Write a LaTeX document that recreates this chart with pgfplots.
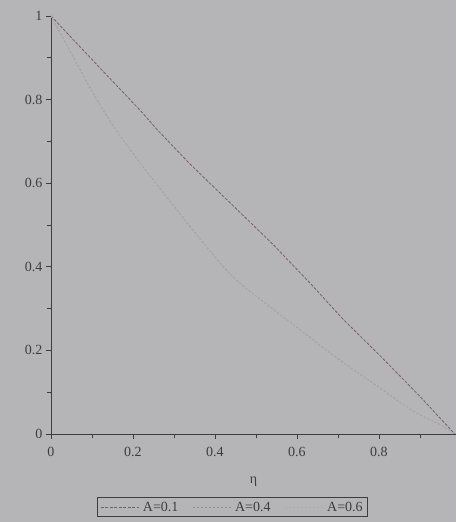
\documentclass[border=0pt]{standalone}
\usepackage{fontspec}
\setmainfont{Liberation Serif}
\usepackage{pgfplots}
\pgfplotsset{compat=1.18}

\definecolor{paper}{RGB}{181,181,183}
\definecolor{ink}{RGB}{62,60,62}
\definecolor{curveA}{RGB}{118,96,102}
\definecolor{curveB}{RGB}{148,143,148}
\definecolor{curveC}{RGB}{172,170,172}

\begin{document}
\begin{tikzpicture}
% sheet behind the plot
\fill[paper] (-51pt,-88pt) rectangle (405pt,434pt);
\begin{axis}[
  scale only axis, width=405pt, height=418pt,
  xmin=0, xmax=0.988, ymin=0, ymax=1,
  axis lines=left,
  axis line style={ink, line width=0.9pt, -},
  xtick={0,0.2,0.4,0.6,0.8},
  ytick={0,0.2,0.4,0.6,0.8,1},
  minor xtick={0.1,0.3,0.5,0.7,0.9},
  minor ytick={0.1,0.3,0.5,0.7,0.9},
  tick align=outside,
  major tick length=5pt, minor tick length=4pt,
  tick style={ink, line width=0.8pt},
  /pgf/number format/assume math mode=true,
  xticklabel style={font=\fontsize{14}{16}\selectfont, text=ink, yshift=-5pt},
  yticklabel style={font=\fontsize{14}{16}\selectfont, text=ink},
  xlabel={η},
  xlabel style={font=\fontsize{14}{16}\selectfont, text=ink, at={(axis description cs:0.5,0)}, anchor=center, yshift=-48pt},
  legend style={at={(0.448,-0.175)}, anchor=center, legend columns=3,
    draw=ink, line width=0.8pt, fill=paper, text=ink,
    font=\fontsize{14}{16}\selectfont, inner ysep=2pt,
    /tikz/every odd column/.append style={column sep=2pt},
    /tikz/every even column/.append style={column sep=12pt}},
  legend image code/.code={\draw[#1] (0pt,0pt) -- (38pt,0pt);},
  clip=true,
]
\addplot[curveA, line width=0.8pt, dash pattern=on 3pt off 1.5pt] coordinates {
  (0,1) (0.12,0.875) (0.217,0.775) (0.259,0.728) (0.34,0.645) (0.437,0.553)
  (0.54,0.455) (0.632,0.361) (0.712,0.275) (0.80,0.19) (0.90,0.09) (0.985,0)
};
\addlegendentry{A=0.1}
\addplot[curveB, line width=0.7pt, dash pattern=on 2pt off 2pt, smooth, tension=0.5] coordinates {
  (0,1) (0.05,0.91) (0.10,0.82) (0.15,0.74) (0.22,0.645)
  (0.30,0.545) (0.39,0.435) (0.45,0.37) (0.52,0.315) (0.60,0.255)
  (0.70,0.18) (0.80,0.112) (0.88,0.057) (0.95,0.022) (0.985,0)
};
\addlegendentry{A=0.4}
\addplot[curveC, line width=0.6pt, dash pattern=on 2pt off 2pt, smooth, tension=0.5] coordinates {
  (0,1) (0.05,0.91) (0.10,0.82) (0.15,0.74) (0.22,0.645)
  (0.30,0.545) (0.39,0.435) (0.45,0.37) (0.52,0.315) (0.60,0.255)
  (0.70,0.18) (0.80,0.112) (0.88,0.057) (0.95,0.022) (0.985,0)
};
\addlegendentry{A=0.6}
\end{axis}
\pgfresetboundingbox
\useasboundingbox (-51pt,-88pt) rectangle (405pt,434pt);
\end{tikzpicture}
\end{document}
